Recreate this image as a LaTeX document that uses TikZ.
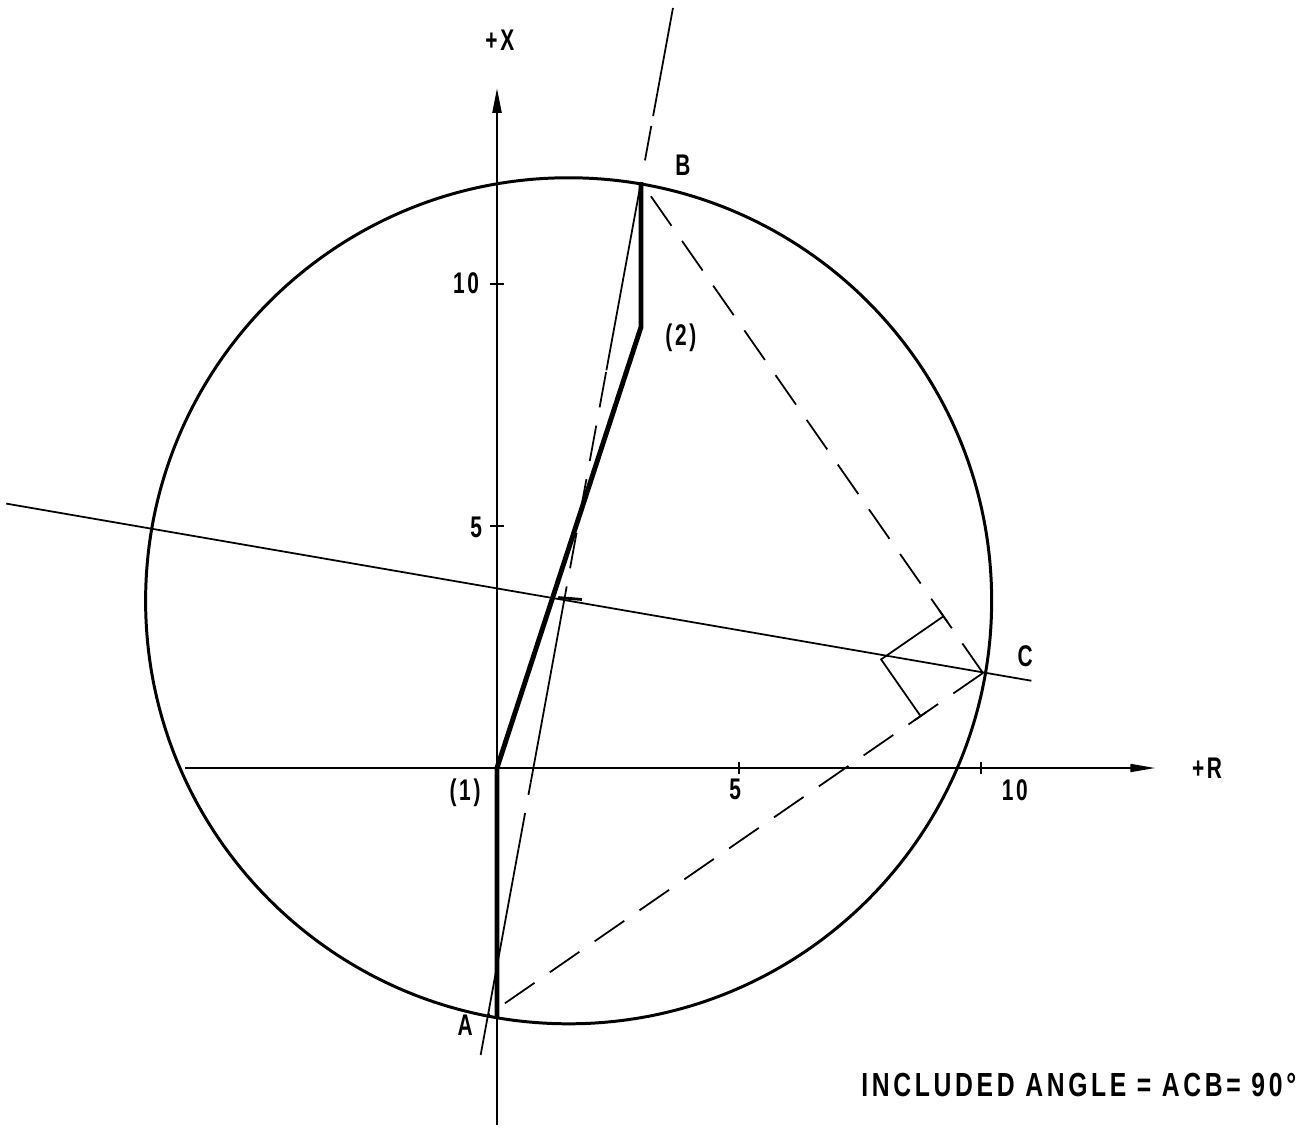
\documentclass[tikz,border=0pt]{standalone}
\usepackage{fontspec}
\setmainfont{Liberation Sans}
\newfontfamily\lettering[FakeStretch=0.7,LetterSpace=9]{Liberation Sans}
\newfontfamily\noteface[FakeStretch=0.74,LetterSpace=11]{Liberation Sans}
\usetikzlibrary{arrows.meta, calc}

\begin{document}
\begin{tikzpicture}[x=0.968cm, y=0.968cm,
  axisline/.style={line width=1.3pt},
  pathline/.style={line width=2.8pt, line join=round},
  thinline/.style={line width=1pt},
  chord/.style={line width=1pt, dash pattern=on 0.72cm off 0.37cm},
  lbl/.style={font=\lettering\bfseries\fontsize{17pt}{19pt}\selectfont, inner sep=0pt},
]
\useasboundingbox (-10.2686,-7.5) rectangle (16.880,15.868);

% Points
\coordinate (O) at (1.48,3.455);
\coordinate (A) at (-0.186,-5.103);
\coordinate (B) at (2.975,12.107);
\coordinate (C) at (10.04,1.963);
\coordinate (P1) at (0,0);
\coordinate (P2) at (2.975,9.11);
\coordinate (Ax) at (0,-5.15);
\coordinate (M) at ($(A)!0.5!(B)$);

% Circle
\draw[line width=1.7pt] (O) circle (8.74);

% Axes
\coordinate (Xlo) at (0,-7.38);
\coordinate (Xhi) at (0,14.05);
\coordinate (Rlo) at (-6.45,0);
\coordinate (Rhi) at (13.6,0);
\draw[axisline, -{Triangle[length=0.5cm,width=0.18cm]}] (Xlo) -- (Xhi);
\draw[axisline, line width=1pt, -{Triangle[length=0.5cm,width=0.16cm]}] (Rlo) -- (Rhi);
\foreach \v in {5,10}{
  \draw[axisline] (-0.15,\v) -- (0.15,\v);
  \draw[axisline] (\v,-0.12) -- (\v,0.12);
}

% Thick path (1)-(2)-B
\draw[pathline] (Ax) -- (P1) -- (P2) -- (B);

% Line through A and B
\coordinate (Ttop) at ($(A)!1.209!(B)$);
\coordinate (Tbot) at ($(A)!-0.048!(B)$);
\draw[thinline] (Tbot) -- ($(A)!0.2!(B)$);
\draw[chord] ($(A)!0.2!(B)$) -- ($(A)!0.279!(B)$);
\draw[thinline] ($(A)!0.279!(B)$) -- ($(A)!0.472!(B)$);
\draw[chord] ($(A)!0.472!(B)$) -- ($(A)!0.774!(B)$);
\draw[thinline] ($(A)!0.774!(B)$) -- (B);
\draw[thinline, dash pattern=on 2.2cm off 0.2cm on 0.7cm off 0.5cm] (Ttop) -- (B);

% Chords to C
\draw[chord] (C) -- (B);
\draw[chord] (C) -- (A);

% Perpendicular bisector of AB
\coordinate (L1) at ($(O)!1.343!90:(B)$);
\coordinate (L2) at ($(O)!1.105!-90:(B)$);
\draw[thinline] (L1) -- (L2);
\draw[line width=1.6pt] ($(M)+(-0.13,0.02)$) -- ($(M)+(0.36,-0.02)$);

% Right angle at C
\coordinate (Ka) at ($(C)!0.1155!(B)$);
\coordinate (Kb) at ($(C)!0.126!(A)$);
\coordinate (K) at ($(Ka)+(Kb)-(C)$);
\draw[thinline] (Ka) -- (K) -- (Kb);
\draw[thinline] ($(C)!0.103!(B)$) -- ($(C)!0.128!(B)$);
\draw[thinline] ($(C)!0.114!(A)$) -- ($(C)!0.138!(A)$);

% Labels
\node[lbl] (lX) at (0.06,15.04) {+X};
\node[lbl] (lB) at (3.84,12.46) {B};
\node[lbl] (l2) at (3.80,8.88) {(2)};
\node[lbl] (l10x) at (-0.64,10.02) {10};
\node[lbl] (l5x) at (-0.43,4.98) {5};
\node[lbl] (l1) at (-0.66,-0.52) {(1)};
\node[lbl] (l5r) at (4.92,-0.45) {5};
\node[lbl] (l10r) at (10.7,-0.45) {10};
\node[lbl] (lR) at (14.67,0) {+R};
\node[lbl] (lC) at (10.91,2.31) {C};
\node[lbl] (lA) at (-0.66,-5.31) {A};
\node[lbl, font=\noteface\bfseries\fontsize{19pt}{21pt}\selectfont] (note) at (12.02,-6.55)
  {INCLUDED ANGLE = ACB= 90°};
\end{tikzpicture}
\end{document}
